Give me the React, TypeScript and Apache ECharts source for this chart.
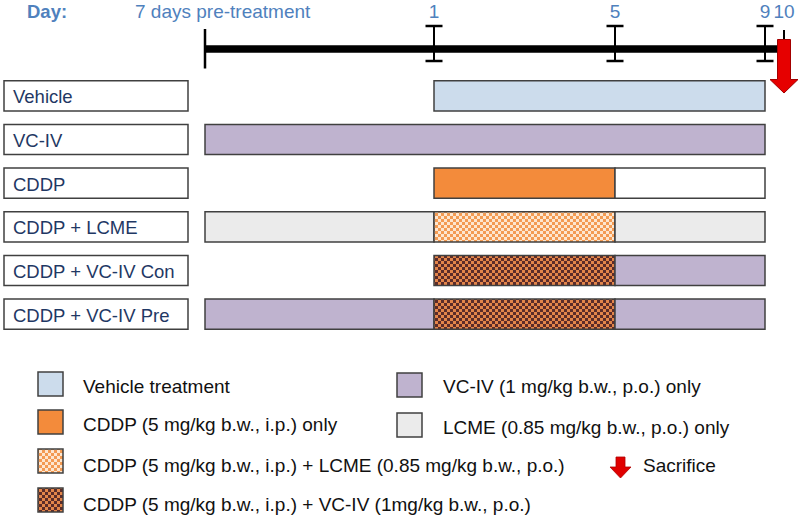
import React, { useEffect, useRef } from 'react';
import * as echarts from 'echarts';

// ---- data ----
const groups = ['Vehicle', 'VC-IV', 'CDDP', 'CDDP + LCME', 'CDDP + VC-IV Con', 'CDDP + VC-IV Pre'];
const dayLabels = ['', '1', '5', '9', '10'];
// schematic (not-to-scale) timeline positions of each day mark
const dayPositions = [0, 229, 410, 560, 579];
// phase edges: pre-treatment | days 1-5 | days 5-9
const phaseEdges = [0, 229, 410, 560];
const prePhase = ['', 'vciv', '', 'lcme', '', 'vciv'];
const treatPhase = ['vehicle', 'vciv', 'cddp', 'cddpLcme', 'cddpVciv', 'cddpVciv'];
const postPhase = ['vehicle', 'vciv', 'blank', 'lcme', 'vciv', 'vciv'];

const legendLeftKeys = ['vehicle', 'cddp', 'cddpLcme', 'cddpVciv'];
const legendLeftTexts = [
  'Vehicle treatment',
  'CDDP (5 mg/kg b.w., i.p.) only',
  'CDDP (5 mg/kg b.w., i.p.) + LCME (0.85 mg/kg b.w., p.o.)',
  'CDDP (5 mg/kg b.w., i.p.) + VC-IV (1mg/kg b.w., p.o.)',
];
const legendRightKeys = ['vciv', 'lcme'];
const legendRightTexts = ['VC-IV (1 mg/kg b.w., p.o.) only', 'LCME (0.85 mg/kg b.w., p.o.) only'];

const FONT = '"Liberation Sans", Arial, sans-serif';
const BLUE = '#4F81BD';
const NAVY = '#1F3864';
const EDGE = '#404040';

function checker(a: string, b: string) {
  const c = document.createElement('canvas');
  c.width = 6;
  c.height = 6;
  const ctx = c.getContext('2d')!;
  ctx.fillStyle = b;
  ctx.fillRect(0, 0, 6, 6);
  ctx.fillStyle = a;
  ctx.fillRect(0, 0, 3, 3);
  ctx.fillRect(3, 3, 3, 3);
  return { image: c, repeat: 'repeat', imageWidth: 6, imageHeight: 6 } as any;
}

export default function App() {
  const ref = useRef<HTMLDivElement>(null);
  useEffect(() => {
    if (!ref.current) return;
    const chart = echarts.init(ref.current, undefined, { renderer: 'svg' });

    const fills: Record<string, any> = {
      vehicle: '#CCDCEC',
      vciv: '#BFB3CF',
      cddp: '#F38B3B',
      lcme: '#EBEBEB',
      blank: '#FFFFFF',
      cddpLcme: checker('#F39A52', '#FDE6CF'),
      cddpVciv: checker('#E3854A', '#5C2C29'),
    };

    // build merged segments
    const segs: { s: number; e: number; row: number; fill: string }[] = [];
    groups.forEach((_, row) => {
      const phases = [prePhase[row], treatPhase[row], postPhase[row]];
      let cur: any = null;
      phases.forEach((f, p) => {
        if (!f) {
          cur = null;
          return;
        }
        if (cur && cur.fill === f) {
          cur.e = phaseEdges[p + 1];
        } else {
          cur = { s: phaseEdges[p], e: phaseEdges[p + 1], row, fill: f };
          segs.push(cur);
        }
      });
    });

    const LFS = 19;
    const graphic: any[] = [
      { type: 'text', style: { text: 'Day:', x: 27, y: 11, verticalAlign: 'middle', fill: BLUE, fontSize: 18.5, fontWeight: 'bold', fontFamily: FONT } },
      { type: 'text', style: { text: '7 days pre-treatment', x: 135, y: 11, verticalAlign: 'middle', fill: BLUE, fontSize: 19, fontFamily: FONT } },
    ];
    const leftY = [372, 410, 449, 488];
    const leftTextY = [386, 424, 465, 504];
    legendLeftKeys.forEach((k, i) => {
      graphic.push({ type: 'rect', shape: { x: 38, y: leftY[i], width: 25, height: 24 }, style: { fill: fills[k], stroke: EDGE, lineWidth: 1.5 } });
      graphic.push({ type: 'text', style: { text: legendLeftTexts[i], x: 83, y: leftTextY[i], verticalAlign: 'middle', fill: '#111', fontSize: LFS, fontFamily: FONT } });
    });
    const rightY = [373, 413];
    const rightTextY = [386, 427];
    legendRightKeys.forEach((k, i) => {
      graphic.push({ type: 'rect', shape: { x: 397, y: rightY[i], width: 25, height: 24 }, style: { fill: fills[k], stroke: EDGE, lineWidth: 1.5 } });
      graphic.push({ type: 'text', style: { text: legendRightTexts[i], x: 443, y: rightTextY[i], verticalAlign: 'middle', fill: '#111', fontSize: LFS, fontFamily: FONT } });
    });
    graphic.push({
      type: 'polygon',
      shape: { points: [[616, 457], [625, 457], [625, 467], [631, 467], [620.5, 478], [610, 467], [616, 467]] },
      style: { fill: '#E00000', stroke: '#B00000', lineWidth: 0.8 },
    });
    graphic.push({ type: 'text', style: { text: 'Sacrifice', x: 643, y: 465, verticalAlign: 'middle', fill: '#111', fontSize: LFS, fontFamily: FONT } });

    const xAxisBase = { type: 'value', min: 0, max: 579, show: false };

    chart.setOption({
      animation: false,
      backgroundColor: '#ffffff',
      grid: [
        { left: 205, right: 16, top: 27, height: 43 },
        { left: 205, right: 16, top: 74, height: 262 },
      ],
      xAxis: [
        { ...xAxisBase, gridIndex: 0 },
        { ...xAxisBase, gridIndex: 1 },
      ],
      yAxis: [
        { type: 'category', data: ['timeline'], gridIndex: 0, show: false },
        { type: 'category', data: groups, gridIndex: 1, inverse: true, show: false },
      ],
      graphic,
      series: [
        // timeline main line
        {
          type: 'custom',
          xAxisIndex: 0,
          yAxisIndex: 0,
          data: [[dayPositions[0], dayPositions[dayPositions.length - 1], 0]],
          encode: { x: [0, 1], y: 2 },
          renderItem: (params: any, api: any) => {
            const a = api.coord([api.value(0), 0]);
            const b = api.coord([api.value(1), 0]);
            return {
              type: 'line',
              shape: { x1: a[0], y1: a[1] + 0.5, x2: b[0], y2: b[1] + 0.5 },
              style: { stroke: '#000', lineWidth: 7.5 },
            };
          },
          z: 1,
        },
        // timeline marks
        {
          type: 'custom',
          xAxisIndex: 0,
          yAxisIndex: 0,
          data: dayPositions.map((p) => [p, 0]),
          encode: { x: 0, y: 1 },
          renderItem: (params: any, api: any) => {
            const i = params.dataIndex;
            const c = api.coord([api.value(0), 0]);
            const x = c[0];
            const y = c[1] + 0.5;
            const children: any[] = [];
            const st = { stroke: '#000', lineWidth: 2.5 };
            if (i === 0) {
              children.push({ type: 'line', shape: { x1: x, y1: y - 20, x2: x, y2: y + 19.5 }, style: st });
            } else if (i < dayPositions.length - 1) {
              children.push({ type: 'line', shape: { x1: x, y1: y - 23, x2: x, y2: y + 12 }, style: { stroke: '#000', lineWidth: 2 } });
              children.push({ type: 'line', shape: { x1: x - 8.5, y1: y - 23, x2: x + 8.5, y2: y - 23 }, style: st });
              children.push({ type: 'line', shape: { x1: x - 8.5, y1: y + 12, x2: x + 8.5, y2: y + 12 }, style: st });
            } else {
              children.push({ type: 'line', shape: { x1: x, y1: y - 19, x2: x, y2: y - 8 }, style: { stroke: '#000', lineWidth: 2 } });
              children.push({
                type: 'polygon',
                shape: {
                  points: [
                    [x - 6.5, y - 9.5], [x + 6.5, y - 9.5], [x + 6.5, y + 30.5],
                    [x + 14, y + 30.5], [x, y + 44], [x - 14, y + 30.5], [x - 6.5, y + 30.5],
                  ],
                },
                style: { fill: '#E60000', stroke: '#A30000', lineWidth: 1 },
              });
            }
            if (dayLabels[i]) {
              children.push({
                type: 'text',
                style: { text: dayLabels[i], x: x, y: 11, align: 'center', verticalAlign: 'middle', fill: BLUE, fontSize: 19, fontFamily: FONT },
              });
            }
            return { type: 'group', children };
          },
          z: 2,
        },
        // treatment bars
        {
          type: 'custom',
          xAxisIndex: 1,
          yAxisIndex: 1,
          data: segs.map((s) => [s.s, s.e, s.row]),
          encode: { x: [0, 1], y: 2 },
          renderItem: (params: any, api: any) => {
            const seg = segs[params.dataIndex];
            const a = api.coord([api.value(0), api.value(2)]);
            const b = api.coord([api.value(1), api.value(2)]);
            const h = api.size([0, 1])[1] * 0.69;
            return {
              type: 'rect',
              shape: { x: a[0], y: a[1] - h / 2, width: b[0] - a[0], height: h },
              style: { fill: fills[seg.fill], stroke: EDGE, lineWidth: 1.5 },
            };
          },
        },
        // group label boxes
        {
          type: 'custom',
          xAxisIndex: 1,
          yAxisIndex: 1,
          data: groups.map((_, i) => [0, i]),
          encode: { x: 0, y: 1 },
          clip: false,
          renderItem: (params: any, api: any) => {
            const c = api.coord([0, api.value(1)]);
            const h = api.size([0, 1])[1] * 0.69;
            const x0 = params.coordSys.x - 201;
            return {
              type: 'group',
              children: [
                { type: 'rect', shape: { x: x0, y: c[1] - h / 2, width: 184, height: h }, style: { fill: '#fff', stroke: EDGE, lineWidth: 1.5 } },
                {
                  type: 'text',
                  style: { text: groups[params.dataIndex], x: x0 + 9, y: c[1] + 1, verticalAlign: 'middle', fill: NAVY, fontSize: 18.5, fontFamily: FONT },
                },
              ],
            };
          },
        },
      ],
    });
    return () => chart.dispose();
  }, []);
  return <div ref={ref} style={{ position: 'fixed', left: 0, top: 0, width: 800, height: 518, background: '#fff' }} />;
}
